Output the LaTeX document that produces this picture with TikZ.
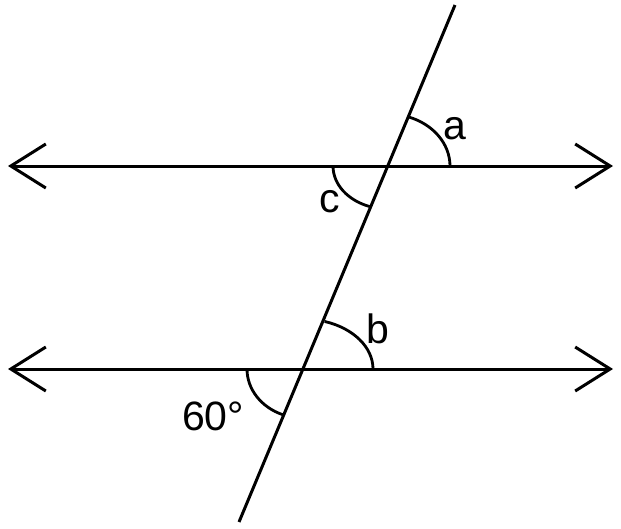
\documentclass[tikz,border=0pt]{standalone}
\usepackage{fontspec}
\setmainfont{Liberation Sans}
\usetikzlibrary{arrows.meta}

\tikzset{
	parallel/.style={line width=3pt, {Straight Barb[length=35pt,width=44pt]}-{Straight Barb[length=35pt,width=44pt]}},
	transversal/.style={line width=3pt},
	anglearc/.style={line width=2.8pt},
	anglelabel/.style={inner sep=0pt, font=\fontsize{41}{43}\selectfont}
}

\begin{document}
\begin{tikzpicture}[x=1pt,y=1pt]
	\useasboundingbox (0,0) rectangle (621,-528);

	\coordinate (l1) at (8,-166);
	\coordinate (r1) at (613,-166);
	\coordinate (l2) at (8,-369);
	\coordinate (r2) at (613,-369);

	\coordinate (t1) at (455,-5);
	\coordinate (t2) at (239,-522);

	\coordinate (k1) at (388,-166);
	\coordinate (k2) at (303,-369);

	\foreach \i in {1,2}
	{
		\draw[parallel] (l\i) -- (r\i);
	};
	\draw[transversal] (t1) -- (t2);

	% angle marks
	\draw[anglearc] ([xshift=62pt]k1) arc[start angle=0, end angle=71, x radius=62pt, y radius=52pt];
	\draw[anglearc] ([xshift=-55pt]k1) arc[start angle=180, end angle=251, x radius=55pt, y radius=43pt];
	\draw[anglearc] ([xshift=70pt]k2) arc[start angle=0, end angle=72, x radius=70pt, y radius=50pt];
	\draw[anglearc] ([xshift=-56pt]k2) arc[start angle=180, end angle=249, x radius=56pt, y radius=49pt];

	\node[anglelabel] (a) at (455,-129) {a};
	\node[anglelabel] (c) at (330,-202) {c};
	\node[anglelabel] (b) at (378,-329) {b};
	\node[anglelabel] (deg) at (213,-416) {60°};
\end{tikzpicture}
\end{document}
